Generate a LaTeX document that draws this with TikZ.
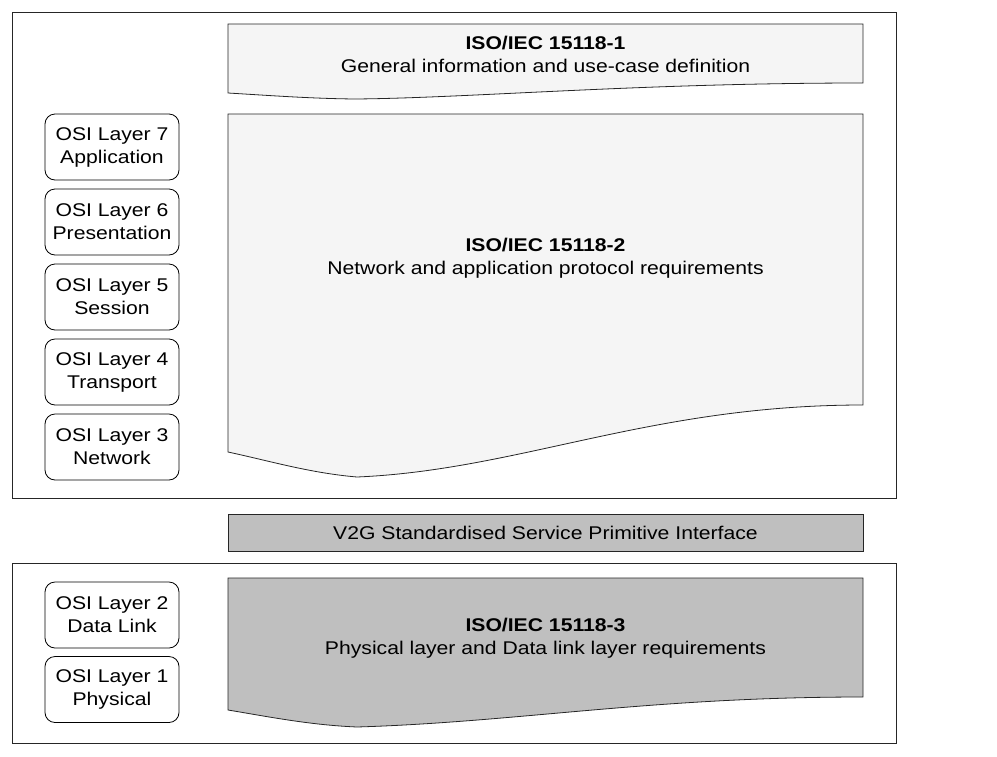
\documentclass[tikz,border=0pt]{standalone}
\usepackage{fontspec}
\setmainfont{Liberation Sans}[FakeStretch=1.15]
\begin{document}
\begin{tikzpicture}[x=1pt,y=-1pt,
  frame/.style={draw=black!85,line width=0.8pt},
  osibox/.style={draw=black,line width=0.8pt,rounded corners=10pt,minimum width=134pt,minimum height=66pt,inner sep=0pt,align=center,font=\fontsize{18.4}{23}\selectfont},
  doctext/.style={align=center,font=\fontsize{18.4}{23}\selectfont},
  docshape/.style={draw=black!85,line width=0.8pt},
  lightfill/.style={fill=black!4},
  darkfill/.style={fill=black!25}]
\useasboundingbox (0,0) rectangle (997,756);
% frames
\draw[frame] (12,12) rectangle (896,498);
\draw[frame] (12,563) rectangle (896,743);
% document 1
\draw[docshape,lightfill] (228,24) -- (863,24) -- (863,83)
  .. controls (640,83) and (470,98) .. (355,99)
  .. controls (310,98.5) and (270,95.5) .. (228,93) -- cycle;
\node[doctext] (d1) at (545.5,54.5) {\textbf{ISO/IEC 15118-1}\\General information and use-case definition};
% document 2
\draw[docshape,lightfill] (228,114) -- (863,114) -- (863,405)
  .. controls (650,405) and (520,470) .. (357,477)
  .. controls (310,473) and (270,461) .. (228,452) -- cycle;
\node[doctext] (d2) at (545.5,258) {\textbf{ISO/IEC 15118-2}\\Network and application protocol requirements};
% V2G interface
\node[draw=black!85,line width=0.8pt,darkfill,minimum width=635pt,minimum height=37pt,inner sep=0pt,font=\fontsize{18.4}{23}\selectfont] (v2g) at (545.5,532.5) {V2G Standardised Service Primitive Interface};
% document 3
\draw[docshape,darkfill] (228,578) -- (863,578) -- (863,697)
  .. controls (650,697) and (520,722) .. (357,727)
  .. controls (310,725) and (270,717) .. (228,710) -- cycle;
\node[doctext] (d3) at (545.5,638) {\textbf{ISO/IEC 15118-3}\\Physical layer and Data link layer requirements};
% OSI layers
\node[osibox] (l7) at (112,147) {OSI Layer 7\\Application};
\node[osibox] (l6) at (112,222) {OSI Layer 6\\Presentation};
\node[osibox] (l5) at (112,297) {OSI Layer 5\\Session};
\node[osibox] (l4) at (112,372) {OSI Layer 4\\Transport};
\node[osibox] (l3) at (112,447) {OSI Layer 3\\Network};
\node[osibox] (l2) at (112,615) {OSI Layer 2\\Data Link};
\node[osibox] (l1) at (112,689.5) {OSI Layer 1\\Physical};
\end{tikzpicture}
\end{document}
